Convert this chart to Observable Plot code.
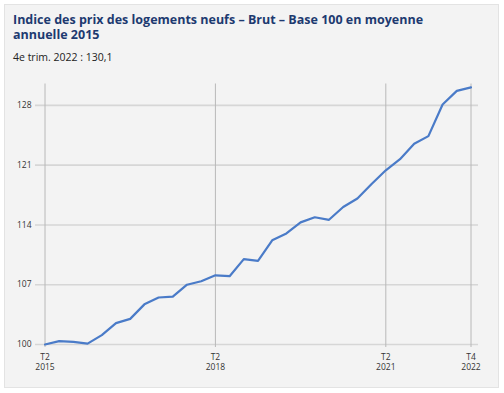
<!DOCTYPE html>
<html>
<head>
<meta charset="utf-8">
<script src="https://cdn.jsdelivr.net/npm/d3@7"></script>
<script src="https://cdn.jsdelivr.net/npm/@observablehq/plot@0.6"></script>
<style>
  html, body { margin: 0; padding: 0; background: #ffffff; width: 504px; height: 393px; overflow: hidden; }
  #frame { position: absolute; left: 4px; top: 4px; width: 493px; height: 382px; background: #f3f3f3; border: 1px solid #e3e3e3; }
  #title { position: absolute; left: 8px; top: 7px; margin: 0; font-family: "Open Sans", sans-serif; font-weight: 700; font-size: 12.5px; line-height: 15px; color: #1d3a70; }
  #subtitle { position: absolute; left: 8px; top: 45px; margin: 0; font-family: "Open Sans", sans-serif; font-size: 10.5px; color: #222; }
  #chart { position: absolute; left: 0; top: 70px; }
</style>
</head>
<body>
<div id="frame">
  <div id="title">Indice des prix des logements neufs – Brut – Base 100 en moyenne<br>annuelle 2015</div>
  <div id="subtitle">4e trim. 2022 : 130,1</div>
</div>
<div id="chart"></div>
<script>
const periods = ["2015-T2","2015-T3","2015-T4","2016-T1","2016-T2","2016-T3","2016-T4","2017-T1","2017-T2","2017-T3","2017-T4","2018-T1","2018-T2","2018-T3","2018-T4","2019-T1","2019-T2","2019-T3","2019-T4","2020-T1","2020-T2","2020-T3","2020-T4","2021-T1","2021-T2","2021-T3","2021-T4","2022-T1","2022-T2","2022-T3","2022-T4"];
const values = [100.0,100.4,100.3,100.1,101.1,102.5,103.0,104.7,105.5,105.6,107.0,107.4,108.1,108.0,110.0,109.8,112.2,113.0,114.3,114.9,114.6,116.1,117.1,118.8,120.4,121.7,123.5,124.4,128.1,129.7,130.1];
const xTicks = ["2015-T2","2018-T2","2021-T2","2022-T4"];
const yTicks = [100, 107, 114, 121, 128];

const toNum = p => { const [y, q] = p.split("-T"); return +y + (+q - 1) / 4; };
const data = periods.map((p, i) => ({x: toNum(p), y: values[i]}));
const xTickNums = xTicks.map(toNum);
const xLabel = new Map(xTicks.map(p => [toNum(p), "T" + p.split("-T")[1] + "\n" + p.split("-T")[0]]));

const chart = Plot.plot({
  width: 504,
  height: 310,
  marginLeft: 44.5,
  marginRight: 33.5,
  marginTop: 13.5,
  marginBottom: 36,
  style: {background: "transparent", fontFamily: "'Open Sans', sans-serif"},
  x: {domain: [toNum("2015-T2"), toNum("2022-T4")]},
  y: {domain: [100, 130.5]},
  marks: [
    Plot.ruleY(yTicks, {stroke: "#d6d6d6", strokeWidth: 1.6, insetLeft: -9.5, insetRight: -7.5}),
    Plot.ruleX(xTickNums, {stroke: "#b8b8b8", strokeWidth: 1, insetBottom: -3}),
    Plot.axisY({ticks: yTicks, tickSize: 0, tickPadding: 13.5, fontSize: 8.5, fill: "#333", label: null}),
    Plot.axisX({ticks: xTickNums, tickSize: 0, tickPadding: 8.5, fontSize: 8.5, lineHeight: 1.15, fill: "#333", label: null, tickFormat: d => xLabel.get(d)}),
    Plot.line(data, {x: "x", y: "y", stroke: "#4a7bc8", strokeWidth: 2.2, strokeLinejoin: "round"})
  ]
});
document.getElementById("chart").appendChild(chart);
</script>
</body>
</html>
